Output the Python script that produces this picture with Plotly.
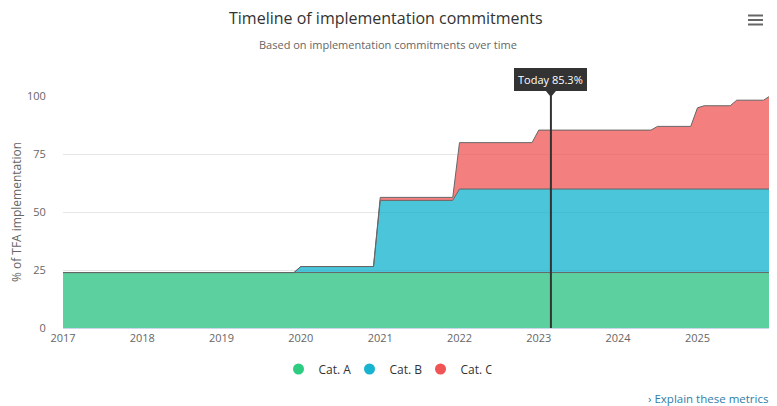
import plotly.graph_objects as go

# step points of the commitments timeline (transition takes one month)
dates = ["2017-01-01", "2019-12-01", "2020-01-01", "2020-12-01", "2021-01-01",
         "2021-12-01", "2022-01-01", "2022-12-01", "2023-01-01", "2024-06-01",
         "2024-07-01", "2024-12-01", "2025-01-01", "2025-02-01", "2025-06-01",
         "2025-07-01", "2025-11-01", "2025-12-01"]
cat_a = [23.9] * 18
cat_b = [0, 0, 2.6, 2.6, 31.1, 31.1, 36.0, 36.0, 36.0, 36.0,
         36.0, 36.0, 36.0, 36.0, 36.0, 36.0, 36.0, 36.0]
cat_c = [0, 0, 0, 0, 1.3, 1.3, 20.0, 20.0, 25.4, 25.4,
         27.0, 27.0, 35.0, 35.9, 35.9, 38.3, 38.3, 40.1]

series = [("Cat. A", cat_a, "rgba(35,193,125,0.74)", "#2ecc80"),
          ("Cat. B", cat_b, "rgba(0,173,203,0.71)", "#17b3cf"),
          ("Cat. C", cat_c, "rgba(240,82,82,0.74)", "#f05454")]

today = "2023-02-26"
today_value = 85.3


# page pixel -> paper coords (the page body adds an 8px offset)
def px(sx):
    return (sx - 63) / 707


def py(sy):
    return (328 - sy) / 232


fig = go.Figure()

for name, vals, fill, col in series:
    fig.add_trace(go.Scatter(
        x=dates, y=vals, name=name, stackgroup="one", mode="lines",
        line=dict(color="#666666", width=1), fillcolor=fill,
        showlegend=False, hoverinfo="skip"
    ))

# legend entries as round markers
for name, vals, fill, col in series:
    fig.add_trace(go.Scatter(
        x=[None], y=[None], name=name, mode="markers",
        marker=dict(color=col, size=11, symbol="circle")
    ))

# "today" marker line and label
fig.add_shape(type="line", x0=today, x1=today, y0=0, y1=py(91), yref="y domain",
              line=dict(color="#333333", width=2))
fig.add_shape(type="path", xref="x", yref="y domain", xsizemode="pixel",
              ysizemode="pixel", xanchor=today, yanchor=py(91),
              path="M -5 0 L 5 0 L 0 -6 Z", fillcolor="#333333", line_width=0)
fig.add_annotation(x=today, y=py(91), xref="x", yref="y domain",
                   text="Today %.1f%%" % today_value, showarrow=False,
                   yanchor="bottom",
                   bgcolor="#333333", bordercolor="#333333", borderpad=3,
                   font=dict(color="white", size=11, family="Open Sans"))

# hamburger menu icon
for yy in [15.5, 20, 24.5]:
    fig.add_shape(type="rect", xref="paper", yref="paper",
                  x0=px(748), x1=px(763), y0=py(yy + 1), y1=py(yy - 1),
                  fillcolor="#666666", line_width=0)

# titles
fig.add_annotation(text="Timeline of implementation commitments",
                   xref="paper", yref="paper", x=px(386), y=py(18),
                   xanchor="center", yanchor="middle", showarrow=False,
                   font=dict(size=16, color="#333333", family="Open Sans"))
fig.add_annotation(text="Based on implementation commitments over time",
                   xref="paper", yref="paper", x=px(388), y=py(44),
                   xanchor="center", yanchor="middle", showarrow=False,
                   font=dict(size=11, color="#666666", family="Open Sans"))

fig.add_annotation(text="› Explain these metrics", xref="paper", yref="paper",
                   x=px(770), y=py(398), xanchor="right", yanchor="middle",
                   showarrow=False,
                   font=dict(color="#2f7ea8", size=11.5, family="Open Sans"))

fig.update_layout(
    width=769, height=398,
    margin=dict(l=55, r=7, t=88, b=78, autoexpand=False),
    paper_bgcolor="white", plot_bgcolor="white",
    font=dict(family="Open Sans", color="#666666", size=11),
    showlegend=True,
    legend=dict(orientation="h", x=px(385), xanchor="center",
                y=py(369), yanchor="middle", traceorder="normal",
                entrywidth=26, itemwidth=30,
                font=dict(size=12, color="#333333", family="Open Sans")),
    hovermode=False,
)

fig.update_xaxes(range=["2017-01-01", "2025-12-01"], dtick="M12",
                 tick0="2017-01-01", tickformat="%Y", showgrid=False,
                 showline=True, linecolor="#ccd6eb", linewidth=1,
                 ticks="", zeroline=False, tickangle=0, automargin=False)
fig.update_yaxes(range=[0, 100], tickvals=[0, 25, 50, 75, 100],
                 gridcolor="#e6e6e6", zeroline=False, automargin=False,
                 ticks="outside", ticklen=14, tickcolor="rgba(0,0,0,0)",
                 title=dict(text="% of TFA implementation", standoff=6,
                            font=dict(size=12, color="#666666")))

fig.write_html("out.html")
